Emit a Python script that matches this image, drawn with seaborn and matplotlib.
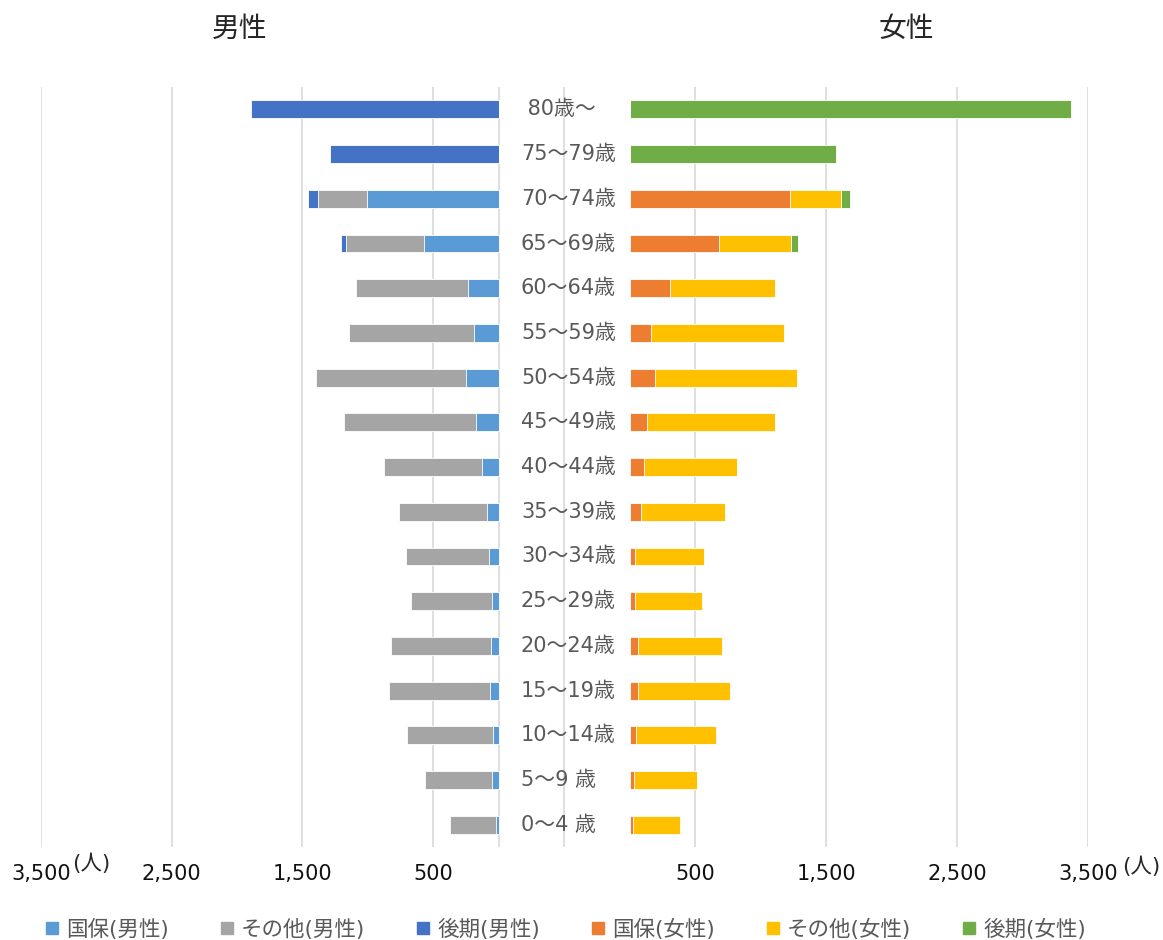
import pandas as pd
import matplotlib.pyplot as plt
import matplotlib.transforms as mtransforms
from matplotlib.lines import Line2D
import seaborn as sns

# data (persons)
ages = [" 80歳～", "75～79歳", "70～74歳", "65～69歳", "60～64歳", "55～59歳",
        "50～54歳", "45～49歳", "40～44歳", "35～39歳", "30～34歳", "25～29歳",
        "20～24歳", "15～19歳", "10～14歳", "5～9 歳", "0～4 歳"]

male_kokuho = [0, 0, 1006, 573, 238, 185, 246, 175, 124, 86, 71, 53, 56, 63, 46, 48, 18]
male_other = [0, 0, 375, 593, 851, 960, 1151, 1006, 756, 677, 636, 618, 765, 775, 656, 515, 353]
male_kouki = [1891, 1290, 78, 43, 0, 0, 0, 0, 0, 0, 0, 0, 0, 0, 0, 0, 0]

female_kokuho = [0, 0, 1224, 684, 312, 167, 194, 133, 110, 87, 42, 40, 66, 66, 48, 33, 25]
female_other = [0, 0, 390, 550, 796, 1016, 1087, 981, 707, 639, 525, 517, 641, 700, 611, 481, 360]
female_kouki = [3370, 1579, 66, 53, 0, 0, 0, 0, 0, 0, 0, 0, 0, 0, 0, 0, 0]

legend_labels = ["国保(男性)", "その他(男性)", "後期(男性)", "国保(女性)", "その他(女性)", "後期(女性)"]
male_colors = ["#5B9BD5", "#A5A5A5", "#4472C4"]
female_colors = ["#ED7D31", "#FFC000", "#70AD47"]

tick_vals = [-500, 500, 1500, 2500, 3500]
tick_labels = ["", "500", "1,500", "2,500", "3,500"]

sns.set_style("white")
plt.rcParams["font.family"] = ["DejaVu Sans", "Noto Sans CJK JP"]

fig = plt.figure(figsize=(11.63, 9.40), dpi=100)
ax_m = fig.add_axes([0.03525, 0.0989, 0.4497, 0.8085])
ax_f = fig.add_axes([0.48495, 0.0989, 0.4506, 0.8085])


def stacked(ax, kokuho, other, kouki, colors):
    df = pd.DataFrame({"age": ages, "kokuho": kokuho, "other": other, "kouki": kouki})
    layers = [df["kokuho"] + df["other"] + df["kouki"], df["kokuho"] + df["other"], df["kokuho"]]
    for vals, c in zip(layers, colors[::-1]):
        sns.barplot(x=vals, y=df["age"], orient="h", order=ages, color=c, saturation=1,
                    width=0.4, edgecolor="white", linewidth=0.6, ax=ax)
    ax.set_ylim(16.5, -0.5)
    ax.set_xticks(tick_vals)
    ax.set_xticklabels(tick_labels)
    ax.set_yticks([])
    ax.set_xlabel("")
    ax.set_ylabel("")
    ax.grid(axis="x", color="#D9D9D9", linewidth=1.2)
    ax.grid(axis="y", visible=False)
    ax.set_axisbelow(True)
    ax.tick_params(axis="x", length=0, pad=12, labelsize=15, labelcolor="#111111")
    ax.patch.set_alpha(0)
    sns.despine(ax=ax, left=True, bottom=True)


stacked(ax_m, male_kokuho, male_other, male_kouki, male_colors)
ax_m.set_xlim(3500, -500)
ax_m.axvline(0, color="#D9D9D9", linewidth=1.2, zorder=0.5)

stacked(ax_f, female_kokuho, female_other, female_kouki, female_colors)
ax_f.set_xlim(-500, 3500)

# age labels in the centre gap
trans = mtransforms.blended_transform_factory(fig.transFigure, ax_f.transData)
for i, a in enumerate(ages):
    ax_f.text(521 / 1163, i, a, transform=trans, ha="left", va="center",
              fontsize=15, color="#595959", clip_on=False)

# titles and unit labels
fig.text(239.5 / 1163, 1 - 28.5 / 940, "男性", ha="center", va="center", fontsize=20)
fig.text(906 / 1163, 1 - 28.5 / 940, "女性", ha="center", va="center", fontsize=20)
fig.text(72 / 1163, 1 - 864 / 940, "(人)", ha="left", va="center", fontsize=15.5)
fig.text(1122 / 1163, 1 - 867 / 940, "(人)", ha="left", va="center", fontsize=15.5)

handles = [Line2D([], [], marker="s", linestyle="none", markersize=9, color=c)
           for c in male_colors + female_colors]
fig.legend(handles, legend_labels, loc="center", bbox_to_anchor=(0.486, 1 - 929 / 940),
           ncol=6, frameon=False, fontsize=15.5, handlelength=0.7, handletextpad=0.3,
           columnspacing=2.35, labelcolor="#595959")

fig.savefig("out.png", dpi=100)
